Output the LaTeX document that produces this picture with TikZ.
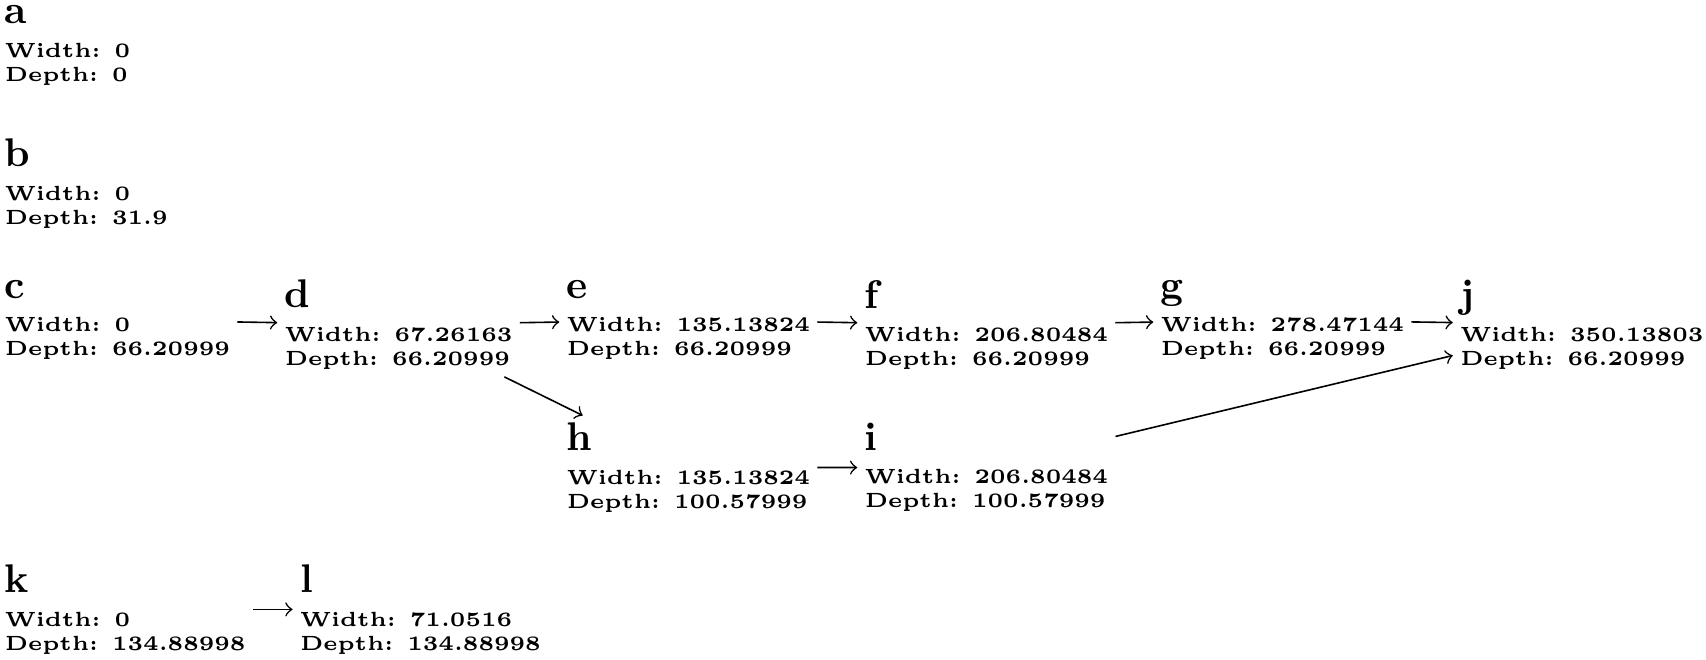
\documentclass[tikz,border=0pt]{standalone}
\tikzset{
  gnode/.style={anchor=north west, align=left, font=\fontsize{5.13}{6}\selectfont\bfseries, inner sep=1.667pt},
  conn/.style={->}
}
\newcommand{\gtitle}[1]{{\fontsize{10}{12}\selectfont #1}\\[2.4pt]}
\begin{document}
\begin{tikzpicture}[x=0.25pt,y=-0.25pt]
\useasboundingbox (0,0) rectangle (1706,660);
\node[gnode] (a) at (-2.67,-1.67)  {\gtitle{a}Width: 0\\Depth: 0};
\node[gnode] (b) at (-2.67,131.3)  {\gtitle{b}Width: 0\\Depth: 31.9};
\node[gnode] (c) at (-2.67,272.6)  {\gtitle{c}Width: 0\\Depth: 66.20999};
\node[gnode] (d) at (277.3,272.6)  {\gtitle{d}Width: 67.26163\\Depth: 66.20999};
\node[gnode] (e) at (559.3,272.6)  {\gtitle{e}Width: 135.13824\\Depth: 66.20999};
\node[gnode] (f) at (857.3,272.6)  {\gtitle{f}Width: 206.80484\\Depth: 66.20999};
\node[gnode] (g) at (1153.3,272.6) {\gtitle{g}Width: 278.47144\\Depth: 66.20999};
\node[gnode] (j) at (1452.8,272.6) {\gtitle{j}Width: 350.13803\\Depth: 66.20999};
\node[gnode] (h) at (559.3,415.5)  {\gtitle{h}Width: 135.13824\\Depth: 100.57999};
\node[gnode] (i) at (857.3,415.5)  {\gtitle{i}Width: 206.80484\\Depth: 100.57999};
\node[gnode] (k) at (-2.67,557.3)  {\gtitle{k}Width: 0\\Depth: 134.88998};
\node[gnode] (l) at (292.6,557.3)  {\gtitle{l}Width: 71.0516\\Depth: 134.88998};
\draw[conn] (c) -- (d);
\draw[conn] (d) -- (e);
\draw[conn] (d) -- (h);
\draw[conn] (e) -- (f);
\draw[conn] (f) -- (g);
\draw[conn] (g) -- (j);
\draw[conn] (h) -- (i);
\draw[conn] (i) -- (j);
\draw[conn] (k) -- (l);
\end{tikzpicture}
\end{document}
